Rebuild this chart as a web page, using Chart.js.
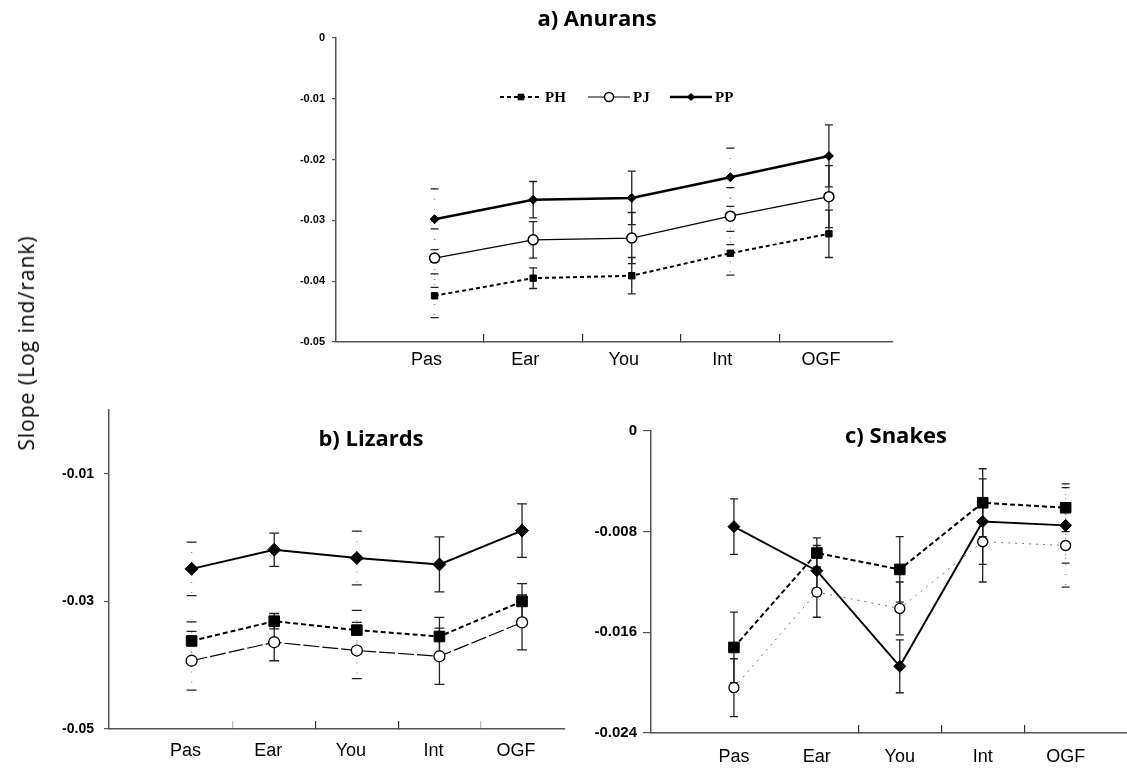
<!DOCTYPE html>
<html>
<head>
<meta charset="utf-8">
<script src="https://cdn.jsdelivr.net/npm/chart.js@4.4.0/dist/chart.umd.min.js"></script>
<style>
  body { margin: 0; background: #fff; }
  #wrap { position: relative; width: 1127px; height: 768px; overflow: hidden; background: #fff; }
  .panel { position: absolute; }
  #ylab {
    position: absolute; left: 26px; top: 343px;
    transform: translate(-50%, -50%) rotate(-90deg);
    font: 21px "Open Sans", sans-serif; letter-spacing: 1px; color: #000; white-space: nowrap;
  }
</style>
</head>
<body>
<div id="wrap">
  <div class="panel" style="left:260px;top:0;width:660px;height:385px"><canvas id="chartA"></canvas></div>
  <div class="panel" style="left:0;top:385px;width:575px;height:383px"><canvas id="chartB"></canvas></div>
  <div class="panel" style="left:575px;top:385px;width:552px;height:383px"><canvas id="chartC"></canvas></div>
  <div id="ylab">Slope (Log ind/rank)</div>
</div>
<script>
const categories = ["Pas", "Ear", "You", "Int", "OGF"];
const seriesNames = ["PH", "PJ", "PP"];

// a) Anurans
const anuranPH = [-0.0424, -0.0395, -0.0391, -0.0354, -0.0322];
const anuranPJ = [-0.0362, -0.0332, -0.0329, -0.0293, -0.0261];
const anuranPP = [-0.0298, -0.0266, -0.0263, -0.0229, -0.0194];
const anuranPHErr = [0.0036, 0.0017, 0.0030, 0.0036, 0.0039];
const anuranPJErr = [0.0048, 0.0030, 0.0042, 0.0047, 0.0051];
const anuranPPErr = [0.0050, 0.0030, 0.0044, 0.0048, 0.0051];
const anuranTicks = [0, -0.01, -0.02, -0.03, -0.04, -0.05];
const anuranTickLabels = ["0", "-0.01", "-0.02", "-0.03", "-0.04", "-0.05"];

// b) Lizards
const lizardPH = [-0.0362, -0.0331, -0.0345, -0.0355, -0.0300];
const lizardPJ = [-0.0393, -0.0364, -0.0377, -0.0386, -0.0333];
const lizardPP = [-0.0249, -0.0219, -0.0232, -0.0242, -0.0189];
const lizardPHErr = [0.0030, 0.0012, 0.0031, 0.0030, 0.0028];
const lizardPJErr = [0.0046, 0.0029, 0.0044, 0.0044, 0.0043];
const lizardPPErr = [0.0042, 0.0026, 0.0042, 0.0043, 0.0042];
const lizardTicks = [-0.01, -0.03, -0.05];
const lizardTickLabels = ["-0.01", "-0.03", "-0.05"];

// c) Snakes
const snakePH = [-0.0172, -0.0097, -0.0110, -0.0057, -0.0061];
const snakePJ = [-0.0204, -0.0128, -0.0141, -0.0088, -0.0091];
const snakePP = [-0.0076, -0.0111, -0.0187, -0.0072, -0.0075];
const snakePHErr = [0.0028, 0.0012, 0.0026, 0.0027, 0.0019];
const snakePJErr = [0.0023, 0.0020, 0.0021, 0.0032, 0.0033];
const snakePPErr = [0.0022, 0.0020, 0.0021, 0.0034, 0.0030];
const snakeTicks = [0, -0.008, -0.016, -0.024];
const snakeTickLabels = ["0", "-0.008", "-0.016", "-0.024"];

function drawMarker(ctx, style, x, y, r) {
  ctx.beginPath();
  if (style === 'rect') {
    const s = r * Math.SQRT1_2;
    ctx.rect(x - s, y - s, 2 * s, 2 * s);
  } else if (style === 'rectRot') {
    ctx.moveTo(x - r, y); ctx.lineTo(x, y - r); ctx.lineTo(x + r, y); ctx.lineTo(x, y + r);
    ctx.closePath();
  } else {
    ctx.arc(x, y, r, 0, Math.PI * 2);
  }
  ctx.fill();
  ctx.stroke();
}

// error bars, drawn under the lines so the markers cover them
const errorBars = {
  id: 'errorBars',
  beforeDatasetsDraw(chart, args, o) {
    const ctx = chart.ctx;
    const y = chart.scales.y;
    ctx.save();
    chart.data.datasets.forEach((ds, i) => {
      const meta = chart.getDatasetMeta(i);
      meta.data.forEach((pt, j) => {
        const v = ds.data[j].y;
        const e = ds.errors[j];
        const yTop = y.getPixelForValue(v + e);
        const yBot = y.getPixelForValue(v - e);
        const xc = pt.x;
        ctx.lineWidth = o.width;
        if (o.stems.includes(j)) {
          ctx.strokeStyle = '#222';
          ctx.setLineDash([]);
        } else {
          ctx.strokeStyle = '#888';
          ctx.setLineDash([1, 9]);
        }
        ctx.beginPath();
        ctx.moveTo(xc, yTop);
        ctx.lineTo(xc, yBot);
        ctx.stroke();
        ctx.setLineDash([]);
        ctx.strokeStyle = '#222';
        ctx.beginPath();
        ctx.moveTo(xc - o.cap, yTop); ctx.lineTo(xc + o.cap, yTop);
        ctx.moveTo(xc - o.cap, yBot); ctx.lineTo(xc + o.cap, yBot);
        ctx.stroke();
      });
    });
    ctx.restore();
  }
};

// panel title and (for panel a) the legend inside the plot
const panelText = {
  id: 'panelText',
  afterDraw(chart, args, o) {
    const ctx = chart.ctx;
    ctx.save();
    ctx.fillStyle = '#000';
    ctx.font = o.titleFont;
    ctx.textAlign = 'center';
    ctx.textBaseline = 'middle';
    ctx.fillText(o.title, o.titleX, o.titleY);
    if (o.legendX) {
      chart.data.datasets.forEach((ds, i) => {
        const lx = o.legendX[i], ly = o.legendY, len = o.legendLen;
        ctx.strokeStyle = '#000';
        ctx.lineWidth = ds.borderWidth;
        ctx.setLineDash(ds.borderDash || []);
        ctx.beginPath();
        ctx.moveTo(lx, ly);
        ctx.lineTo(lx + len, ly);
        ctx.stroke();
        ctx.setLineDash([]);
        ctx.lineWidth = ds.pointBorderWidth;
        ctx.fillStyle = ds.pointBackgroundColor;
        drawMarker(ctx, ds.pointStyle, lx + len / 2, ly, o.legendRadius[i]);
        ctx.fillStyle = '#000';
        ctx.font = o.legendFont;
        ctx.textAlign = 'left';
        ctx.fillText(ds.label, lx + len + 3, ly + 1);
      });
    }
    ctx.restore();
  }
};

function points(values) {
  return values.map((v, i) => ({ x: i + 1, y: v }));
}

function makePanel(id, p) {
  const series = [p.ph, p.pj, p.pp];
  const errs = [p.phErr, p.pjErr, p.ppErr];
  const datasets = seriesNames.map((name, i) => Object.assign({
    label: name,
    data: points(series[i]),
    errors: errs[i],
    borderColor: '#000',
    pointBorderColor: '#000',
    pointBorderWidth: 1,
    tension: 0,
    fill: false
  }, p.styles[i]));

  new Chart(document.getElementById(id), {
    type: 'line',
    data: { datasets },
    options: {
      responsive: true,
      maintainAspectRatio: false,
      animation: false,
      layout: { autoPadding: false, padding: { top: p.top, right: p.right, left: 0, bottom: 0 } },
      scales: {
        x: {
          type: 'linear',
          min: 0,
          max: p.xMax,
          afterBuildTicks: s => { s.ticks = categories.map((c, i) => ({ value: i + 1 })); },
          afterFit: s => { s.height = p.bottom; s.paddingLeft = 0; s.paddingRight = 0; },
          grid: {
            offset: true,
            drawOnChartArea: false,
            drawTicks: true,
            tickLength: -8,
            lineWidth: 1.2,
            color: ctx => p.xTickColors[ctx.index] || 'rgba(0,0,0,0)'
          },
          border: { display: true, color: '#555', width: 1.5 },
          ticks: {
            callback: (v, i) => categories[i],
            font: { family: 'Liberation Sans', size: 18 },
            color: '#000',
            padding: p.xPad,
            labelOffset: p.labelOffset,
            maxRotation: 0,
            autoSkip: false
          }
        },
        y: {
          min: p.yTicks[p.yTicks.length - 1],
          max: 0,
          afterBuildTicks: s => { s.ticks = p.yTicks.map(v => ({ value: v })); },
          afterFit: s => { s.width = p.left; s.paddingTop = 0; s.paddingBottom = 0; },
          grid: { drawOnChartArea: false, tickLength: p.yTickLen, color: '#555', lineWidth: 1.2 },
          border: { display: true, color: '#555', width: 1.5 },
          ticks: {
            callback: (v, i) => p.yLabels[i],
            font: p.yFont,
            color: '#000',
            padding: p.yPad
          }
        }
      },
      plugins: {
        legend: { display: false },
        tooltip: { enabled: false },
        errorBars: { stems: p.stems, cap: p.cap, width: 1.3 },
        panelText: p.text
      }
    },
    plugins: [errorBars, panelText]
  });
}

const T = 'rgba(0,0,0,0)';

makePanel('chartA', {
  ph: anuranPH, pj: anuranPJ, pp: anuranPP,
  phErr: anuranPHErr, pjErr: anuranPJErr, ppErr: anuranPPErr,
  yTicks: anuranTicks, yLabels: anuranTickLabels,
  top: 38, right: 27, left: 76, bottom: 43, xMax: 5.65,
  xPad: 15, labelOffset: -8,
  xTickColors: [T, '#333', '#333', '#333', '#333', T],
  yTickLen: 4, yPad: 7,
  yFont: { family: 'Liberation Sans', size: 11, weight: 'bold' },
  stems: [1, 2, 4], cap: 4,
  styles: [
    { borderWidth: 2, borderDash: [4, 3], pointStyle: 'rect', pointRadius: 4.5, pointBackgroundColor: '#000' },
    { borderWidth: 1.2, pointStyle: 'circle', pointRadius: 5, pointBackgroundColor: '#fff', pointBorderWidth: 1.5 },
    { borderWidth: 2.5, pointStyle: 'rectRot', pointRadius: 4.5, pointBackgroundColor: '#000' }
  ],
  text: {
    title: 'a) Anurans', titleFont: 'bold 22px "Open Sans"', titleX: 337, titleY: 20,
    legendX: [240, 328, 410], legendY: 97, legendLen: 42, legendRadius: [4, 4.5, 3.5],
    legendFont: 'bold 15px "Liberation Serif"'
  }
});

makePanel('chartB', {
  ph: lizardPH, pj: lizardPJ, pp: lizardPP,
  phErr: lizardPHErr, pjErr: lizardPJErr, ppErr: lizardPPErr,
  yTicks: lizardTicks, yLabels: lizardTickLabels,
  top: 25, right: 10, left: 109, bottom: 39, xMax: 5.52,
  xPad: 19, labelOffset: -6,
  xTickColors: [T, '#bbb', '#333', '#333', '#bbb', T],
  yTickLen: 5, yPad: 10,
  yFont: { family: 'Liberation Sans', size: 14, weight: 'bold' },
  stems: [1, 3, 4], cap: 5,
  styles: [
    { borderWidth: 2, borderDash: [5, 3], pointStyle: 'rect', pointRadius: 7.5, pointBackgroundColor: '#000' },
    { borderWidth: 1.2, borderDash: [16, 3], pointStyle: 'circle', pointRadius: 5.5, pointBackgroundColor: '#fff', pointBorderWidth: 1.3 },
    { borderWidth: 2, pointStyle: 'rectRot', pointRadius: 6.5, pointBackgroundColor: '#000' }
  ],
  text: { title: 'b) Lizards', titleFont: 'bold 22px "Open Sans"', titleX: 371, titleY: 55 }
});

makePanel('chartC', {
  ph: snakePH, pj: snakePJ, pp: snakePP,
  phErr: snakePHErr, pjErr: snakePJErr, ppErr: snakePPErr,
  yTicks: snakeTicks, yLabels: snakeTickLabels,
  top: 46, right: 0, left: 76, bottom: 35, xMax: 5.74,
  xPad: 21, labelOffset: 0,
  xTickColors: [T, T, '#333', '#333', '#333', T],
  yTickLen: 8, yPad: 6,
  yFont: { family: 'Liberation Sans', size: 15, weight: 'bold' },
  stems: [0, 1, 2, 3], cap: 4,
  styles: [
    { borderWidth: 2, borderDash: [5, 3], pointStyle: 'rect', pointRadius: 7.5, pointBackgroundColor: '#000' },
    { borderWidth: 1, borderDash: [2, 5], borderColor: '#777', pointStyle: 'circle', pointRadius: 5, pointBackgroundColor: '#fff', pointBorderWidth: 1.3 },
    { borderWidth: 2, pointStyle: 'rectRot', pointRadius: 6, pointBackgroundColor: '#000' }
  ],
  text: { title: 'c) Snakes', titleFont: 'bold 22px "Open Sans"', titleX: 321, titleY: 52 }
});
</script>
</body>
</html>
